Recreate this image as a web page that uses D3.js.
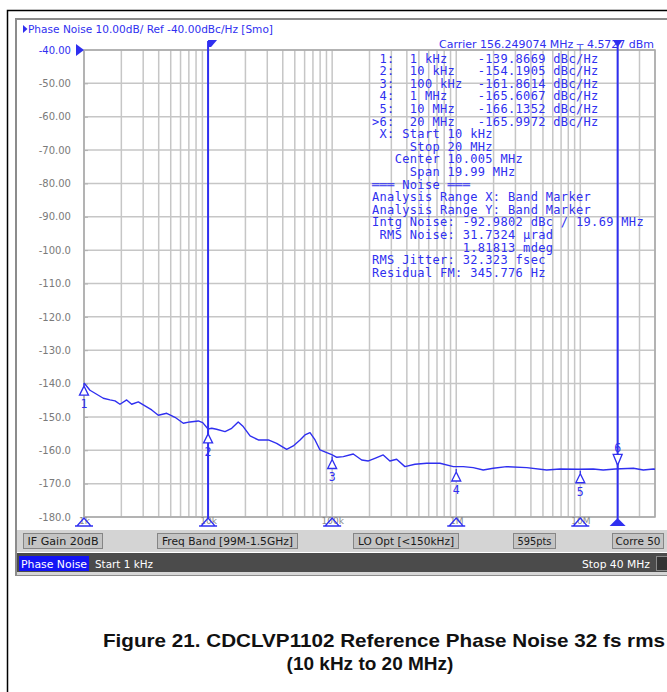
<!DOCTYPE html>
<html>
<head>
<meta charset="utf-8">
<title>Phase Noise</title>
<script src="https://cdnjs.cloudflare.com/ajax/libs/d3/7.8.5/d3.min.js"></script>
<style>
  body { margin: 0; background: #fff; }
  svg text { white-space: pre; }
</style>
</head>
<body>
<div id="main-container"></div>
<script>
// trace
var freqs = [1000, 1117, 1265, 1431, 1620, 1778, 1950, 2208, 2423, 2740, 3102, 3513, 3971, 4643, 5412,
  6315, 7148, 8339, 9050, 10000, 10700, 11700, 13700, 15500, 17500, 19200, 21800, 25400, 30600, 35700,
  43000, 48600, 55100, 60400, 66300, 72800, 79800, 90400, 99200, 109000, 123000, 148000, 173000, 196000,
  221000, 258000, 292000, 331000, 386000, 465000, 578000, 740000, 948000, 1140000, 1370000, 1650000,
  1990000, 2550000, 3700000, 5360000, 6870000, 9640000, 12700000, 15300000, 19100000, 26800000,
  32200000, 38800000, 40000000];
var noise = [-139.8, -142.0, -143.2, -144.4, -144.9, -145.2, -146.2, -144.9, -146.2, -145.5, -146.7, -147.9,
  -149.5, -148.9, -150.1, -151.9, -151.5, -151.2, -151.7, -153.6, -153.4, -153.7, -154.4, -153.4, -151.5,
  -152.9, -155.7, -156.9, -156.9, -157.9, -159.7, -158.7, -156.9, -155.4, -154.7, -156.9, -159.9, -160.7,
  -161.3, -162.1, -161.9, -161.1, -162.9, -163.2, -162.4, -161.4, -163.2, -162.7, -164.9, -164.2, -163.9,
  -163.9, -164.9, -164.9, -165.2, -165.9, -165.4, -164.9, -165.2, -165.9, -165.6, -165.7, -165.6, -165.9,
  -165.6, -165.4, -165.9, -165.6, -165.7];

var yTicks = [-40, -50, -60, -70, -80, -90, -100, -110, -120, -130, -140, -150, -160, -170, -180];
var yTickLabels = ["-40.00", "-50.00", "-60.00", "-70.00", "-80.00", "-90.00", "-100.0", "-110.0",
  "-120.0", "-130.0", "-140.0", "-150.0", "-160.0", "-170.0", "-180.0"];
var decadeFreqs = [1e3, 1e4, 1e5, 1e6, 1e7];
var decadeLabels = ["1k", "10k", "100k", "1M", "10M"];

var markerNames = ["1", "2", "3", "4", "5", "6"];
var markerFreqs = [1e3, 1e4, 1e5, 1e6, 1e7, 2e7];
var markerFreqLabels = ["1 kHz", "10 kHz", "100 kHz", "1 MHz", "10 MHz", "20 MHz"];
var markerValues = [-139.8669, -154.1905, -161.8614, -165.6067, -166.1352, -165.9972];
var bandFreqs = [1e4, 2e7];

var noiseLines = [
  " X: Start 10 kHz",
  "     Stop 20 MHz",
  "   Center 10.005 MHz",
  "     Span 19.99 MHz",
  "═══ Noise ═══",
  "Analysis Range X: Band Marker",
  "Analysis Range Y: Band Marker",
  "Intg Noise: -92.9802 dBc / 19.69 MHz",
  " RMS Noise: 31.7324 µrad",
  "            1.81813 mdeg",
  "RMS Jitter: 32.323 fsec",
  "Residual FM: 345.776 Hz"
];

var statusButtons = ["IF Gain 20dB", "Freq Band [99M-1.5GHz]", "LO Opt [<150kHz]", "595pts", "Corre 50"];
// x, width, text width of each button
var buttonBoxes = [[23, 79, 71], [157, 140, 131], [353, 105, 96], [513, 42, 34], [612, 51, 45]];

var blue = "#2f2ff0";
var W = 667, H = 692;

var svg = d3.select("#main-container").append("svg")
  .attr("width", W).attr("height", H)
  .style("font-family", "'DejaVu Sans', sans-serif");

// outer document frame
svg.append("path").attr("d", "M7.5,692 L7.5,10.5 L667,10.5")
  .attr("fill", "none").attr("stroke", "#000").attr("stroke-width", 1.5);

// analyzer screen
svg.append("rect").attr("x", 16).attr("y", 19).attr("width", 660).attr("height", 556)
  .attr("fill", "#fff").attr("stroke", "#8c8c8c").attr("stroke-width", 2);

var x = d3.scaleLog().domain([1e3, 4e7]).range([84, 655]);
var y = d3.scaleLinear().domain([-40, -180]).range([50, 517]);

// grid
var gridFreqs = [];
decadeFreqs.forEach(function(d) {
  for (var k = 1; k < 10; k++) {
    if (k * d <= 4e7) gridFreqs.push(k * d);
  }
});
svg.append("g").selectAll("line").data(gridFreqs).enter().append("line")
  .attr("x1", function(d) { return x(d); }).attr("x2", function(d) { return x(d); })
  .attr("y1", y(-40)).attr("y2", y(-180))
  .attr("stroke", "#c6c6c6").attr("stroke-width", 1.5);
svg.append("g").selectAll("line").data(yTicks).enter().append("line")
  .attr("x1", x(1e3)).attr("x2", x(4e7))
  .attr("y1", function(d) { return y(d); }).attr("y2", function(d) { return y(d); })
  .attr("stroke", "#c6c6c6").attr("stroke-width", 1.5);
svg.append("rect").attr("x", x(1e3)).attr("y", y(-40))
  .attr("width", x(4e7) - x(1e3)).attr("height", y(-180) - y(-40))
  .attr("fill", "none").attr("stroke", "#a8a8a8").attr("stroke-width", 1.5);

// y axis
var yAxis = svg.append("g").attr("transform", "translate(" + x(1e3) + ",0)")
  .call(d3.axisLeft(y).tickValues(yTicks)
    .tickFormat(function(d, i) { return yTickLabels[i]; })
    .tickSizeInner(-4).tickSizeOuter(0).tickPadding(13));
yAxis.select(".domain").remove();
yAxis.selectAll("line").attr("stroke", "#b0b0b0");
yAxis.selectAll("text").attr("font-family", "'DejaVu Sans', sans-serif").attr("font-size", 10)
  .attr("fill", function(d) { return d == -40 ? blue : "#7a7a7a"; });
svg.append("path")
  .attr("d", "M" + (x(1e3) - 8) + "," + (y(-40) - 6) + " L" + x(1e3) + "," + y(-40) +
    " L" + (x(1e3) - 8) + "," + (y(-40) + 6) + " Z")
  .attr("fill", blue);

// x axis labels (mostly hidden under the triangles)
var xAxis = svg.append("g").attr("transform", "translate(0," + y(-180) + ")")
  .call(d3.axisBottom(x).tickValues(decadeFreqs)
    .tickFormat(function(d, i) { return decadeLabels[i]; })
    .tickSize(0).tickPadding(1));
xAxis.select(".domain").remove();
xAxis.selectAll("text").attr("font-family", "'DejaVu Sans', sans-serif").attr("font-size", 9)
  .attr("fill", "#8a8a8a");
svg.append("g").selectAll("path").data(decadeFreqs).enter().append("path")
  .attr("d", function(d) {
    var cx = x(d), b = y(-180) + 9;
    return "M" + (cx - 7) + "," + b + " L" + cx + "," + (b - 8) + " L" + (cx + 7) + "," + b + " Z" +
      " M" + (cx - 9) + "," + b + " L" + (cx + 9) + "," + b;
  })
  .attr("fill", "none").attr("stroke", blue).attr("stroke-width", 1.3);

// header texts
svg.append("path").attr("d", "M23,25 L27.5,29 L23,33 Z").attr("fill", blue);
svg.append("text").attr("x", 28).attr("y", 33).attr("font-size", 10).attr("fill", blue)
  .attr("textLength", 245).attr("lengthAdjust", "spacingAndGlyphs")
  .text("Phase Noise 10.00dB/ Ref -40.00dBc/Hz [Smo]");
svg.append("text").attr("x", 654).attr("y", 48).attr("font-size", 10).attr("fill", blue)
  .attr("text-anchor", "end").attr("textLength", 215).attr("lengthAdjust", "spacingAndGlyphs")
  .text("Carrier 156.249074 MHz ┬ 4.5727 dBm");

// band marker lines (integration range)
svg.append("g").selectAll("line").data(bandFreqs).enter().append("line")
  .attr("x1", function(d) { return x(d); }).attr("x2", function(d) { return x(d); })
  .attr("y1", 41).attr("y2", y(-180) + 2)
  .attr("stroke", blue).attr("stroke-width", 2);
var xs = x(bandFreqs[0]), xe = x(bandFreqs[1]);
svg.append("path").attr("d", "M" + xs + ",40 L" + (xs + 9) + ",40 L" + (xs + 3) + ",47 L" + xs + ",47 Z")
  .attr("fill", blue);
svg.append("path").attr("d", "M" + (xe - 5) + ",40 L" + (xe + 5) + ",40 L" + xe + ",47 Z")
  .attr("fill", blue);
svg.append("path").attr("d", "M" + (xe - 8) + "," + (y(-180) + 9) + " L" + xe + "," + (y(-180) + 1) +
    " L" + (xe + 8) + "," + (y(-180) + 9) + " Z")
  .attr("fill", blue);

// trace
var line = d3.line()
  .x(function(d, i) { return x(freqs[i]); })
  .y(function(d) { return y(d); });
svg.append("path").datum(noise)
  .attr("d", line)
  .attr("fill", "none").attr("stroke", blue).attr("stroke-width", 1.4)
  .attr("stroke-linejoin", "round");

// trace markers
var markers = svg.append("g").selectAll("g").data(markerValues).enter().append("g");
markers.append("path")
  .attr("d", function(d, i) {
    var cx = x(markerFreqs[i]), cy = y(d);
    if (i == 5) {
      return "M" + cx + "," + cy + " L" + cx + "," + (cy - 4) +
        " M" + (cx - 4.5) + "," + (cy - 16) + " L" + (cx + 4.5) + "," + (cy - 16) +
        " L" + cx + "," + (cy - 5) + " Z";
    }
    return "M" + cx + "," + cy + " L" + cx + "," + (cy + 3) +
      " L" + (cx + 4.5) + "," + (cy + 12) + " L" + (cx - 4.5) + "," + (cy + 12) +
      " L" + cx + "," + (cy + 3);
  })
  .attr("fill", "#fff").attr("stroke", blue).attr("stroke-width", 1.3);
markers.append("text")
  .attr("x", function(d, i) { return x(markerFreqs[i]); })
  .attr("y", function(d, i) { return i == 5 ? y(d) - 18 : y(d) + 25; })
  .attr("text-anchor", "middle")
  .attr("font-family", "'DejaVu Sans Mono', monospace").attr("font-size", 11.5)
  .attr("fill", blue)
  .text(function(d, i) { return markerNames[i]; });

// marker table and noise readout
var readout = markerValues.map(function(v, i) {
  var head = (i == 5 ? ">" : " ") + markerNames[i] + ":  ";
  return head + (markerFreqLabels[i] + "         ").slice(0, 9) + v.toFixed(4) + " dBc/Hz";
}).concat(noiseLines);
svg.append("g").selectAll("text").data(readout).enter().append("text")
  .attr("x", 372)
  .attr("y", function(d, i) { return 62.5 + i * 12.6; })
  .attr("font-family", "'DejaVu Sans Mono', monospace").attr("font-size", 12)
  .attr("letter-spacing", 0.33)
  .attr("fill", blue)
  .text(function(d) { return d; });

// status row
svg.append("rect").attr("x", 17).attr("y", 530).attr("width", 650).attr("height", 22)
  .attr("fill", "#d4d4d4");
var btn = svg.append("g").selectAll("g").data(statusButtons).enter().append("g");
btn.append("rect")
  .attr("x", function(d, i) { return buttonBoxes[i][0] + 0.5; }).attr("y", 533.5)
  .attr("width", function(d, i) { return buttonBoxes[i][1]; }).attr("height", 15)
  .attr("fill", "#c4c4c4").attr("stroke", "#858585");
btn.append("text")
  .attr("x", function(d, i) { return buttonBoxes[i][0] + buttonBoxes[i][1] / 2 + 0.5; })
  .attr("y", 545).attr("text-anchor", "middle")
  .attr("font-size", 10).attr("fill", "#1a1a1a")
  .attr("textLength", function(d, i) { return buttonBoxes[i][2]; })
  .attr("lengthAdjust", "spacingAndGlyphs")
  .text(function(d) { return d; });

// dark info bar
svg.append("rect").attr("x", 17).attr("y", 553).attr("width", 650).attr("height", 19).attr("fill", "#4b4b4b");
svg.append("rect").attr("x", 17).attr("y", 572).attr("width", 650).attr("height", 3).attr("fill", "#d6d6d6");
svg.append("rect").attr("x", 19).attr("y", 556).attr("width", 70).attr("height", 15).attr("fill", "#1414f5");
svg.append("text").attr("x", 21).attr("y", 567.5).attr("font-size", 10).attr("fill", "#fff")
  .attr("textLength", 66).attr("lengthAdjust", "spacingAndGlyphs").text("Phase Noise");
svg.append("text").attr("x", 95).attr("y", 567.5).attr("font-size", 10).attr("fill", "#fff")
  .attr("textLength", 58).attr("lengthAdjust", "spacingAndGlyphs").text("Start 1 kHz");
svg.append("text").attr("x", 650).attr("y", 567.5).attr("font-size", 10).attr("fill", "#fff")
  .attr("text-anchor", "end").attr("textLength", 68).attr("lengthAdjust", "spacingAndGlyphs")
  .text("Stop 40 MHz");
svg.append("rect").attr("x", 656.5).attr("y", 556.5).attr("width", 12).attr("height", 14)
  .attr("fill", "#333").attr("stroke", "#8a8a8a");

// figure caption
svg.append("text").attr("x", 103).attr("y", 647)
  .attr("font-family", "'Liberation Sans', Arial, sans-serif").attr("font-weight", "bold")
  .attr("font-size", 19).attr("fill", "#111")
  .attr("textLength", 562).attr("lengthAdjust", "spacingAndGlyphs")
  .text("Figure 21. CDCLVP1102 Reference Phase Noise 32 fs rms");
svg.append("text").attr("x", 370).attr("y", 670).attr("text-anchor", "middle")
  .attr("font-family", "'Liberation Sans', Arial, sans-serif").attr("font-weight", "bold")
  .attr("font-size", 19).attr("fill", "#111")
  .text("(10 kHz to 20 MHz)");
</script>
</body>
</html>
